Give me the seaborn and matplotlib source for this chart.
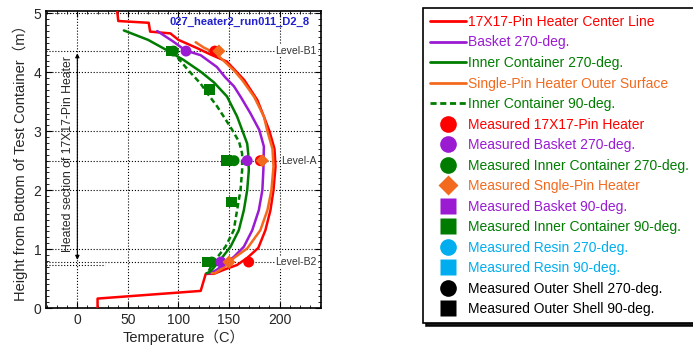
import seaborn as sns
import matplotlib.pyplot as plt
from matplotlib.lines import Line2D
from matplotlib.ticker import MultipleLocator

# simulated profiles: temperature (C) vs height (m)
center_x = [20, 20, 122, 127, 135, 145, 158, 168, 179, 186, 191, 194, 196, 195, 190, 184.5, 178, 165, 148, 132, 118.5, 100, 92, 72, 70.6, 40.5, 39]
center_y = [0, 0.16, 0.29, 0.58, 0.58, 0.65, 0.73, 0.85, 1.02, 1.32, 1.66, 2.0, 2.4, 2.7, 3.0, 3.25, 3.53, 3.87, 4.18, 4.30, 4.41, 4.55, 4.66, 4.69, 4.84, 4.87, 5.1]

basket_x = [128, 132, 138, 146.5, 155, 164.7, 173, 179.5, 183, 184, 184.5, 180, 171, 162, 155, 146, 138, 122, 107, 95, 79]
basket_y = [0.59, 0.59, 0.65, 0.76, 0.87, 1.04, 1.32, 1.66, 2.0, 2.34, 2.74, 3.02, 3.31, 3.57, 3.76, 3.92, 4.09, 4.29, 4.37, 4.52, 4.70]

inner270_x = [128, 131.7, 141.6, 151.5, 159.7, 164.7, 168, 169.6, 169, 168, 163, 158, 148, 135, 122, 105, 89, 70, 46]
inner270_y = [0.59, 0.62, 0.82, 1.04, 1.32, 1.66, 2.0, 2.34, 2.62, 2.79, 3.02, 3.25, 3.59, 3.83, 4.01, 4.21, 4.37, 4.55, 4.71]

single_x = [133, 136, 145, 155, 168, 181, 188, 192, 194, 193, 188, 184.5, 175, 163, 155, 137, 125, 117]
single_y = [0.59, 0.59, 0.69, 0.85, 1.01, 1.32, 1.66, 2.0, 2.4, 2.7, 3.0, 3.25, 3.58, 3.87, 4.03, 4.32, 4.42, 4.51]

inner90_x = [130, 133, 138, 146.5, 154.7, 158, 161.4, 163, 163, 160, 151.5, 138.3, 130, 121.8, 110, 98.6, 90]
inner90_y = [0.63, 0.73, 0.85, 1.04, 1.32, 1.66, 2.0, 2.34, 2.62, 2.82, 3.07, 3.42, 3.61, 3.81, 4.03, 4.26, 4.43]

# measurements at the three levels
levels = [4.36, 2.50, 0.78]
level_names = ["Level-B1", "Level-A", "Level-B2"]
meas_heater = [136, 181, 169.5]
meas_single = [140, 183, 150]
meas_basket = [107.5, 168, 142]
meas_inner270 = [95, 155, 133]
inner90_sq_x = [92.7, 131, 147.5, 152.5, 128.4]
inner90_sq_y = [4.36, 3.71, 2.50, 1.80, 0.78]

RED = "#FF0000"
PURPLE = "#9B1BD3"
GREEN = "#007D00"
ORANGE = "#F36A1E"
CYAN = "#00AEEF"

sns.set_style("ticks")
plt.rcParams['font.family'] = ['Liberation Sans', 'Noto Sans CJK JP']

fig = plt.figure(figsize=(6.93, 3.51), dpi=100)
ax = fig.add_axes([46 / 693, 43 / 351, 275 / 693, 297 / 351])

# level lines + heated section marker
for lv, name in zip(levels, level_names):
    ax.axhline(lv, color="k", ls=":", lw=0.8, zorder=1)
    ax.text(237, lv, name, ha="right", va="center", fontsize=7.5, color="#333333",
            bbox=dict(facecolor="white", edgecolor="none", pad=0.5), zorder=2)
ax.plot([-31, 27], [0.73, 0.73], color="k", ls=":", lw=0.8)
ax.annotate("", xy=(0, 0.77), xytext=(0, 4.37),
            arrowprops=dict(arrowstyle="<|-|>", color="k", lw=0.8, mutation_scale=6))
ax.text(-9, 2.62, "Heated section of 17X17-Pin Heater", rotation=90,
        ha="center", va="center", fontsize=8.8)

lines = [
    (center_x, center_y, RED, "-"),
    (basket_x, basket_y, PURPLE, "-"),
    (inner270_x, inner270_y, GREEN, "-"),
    (single_x, single_y, ORANGE, "-"),
    (inner90_x, inner90_y, GREEN, (0, (2.2, 1.3))),
]
for xs, ys, col, ls in lines:
    sns.lineplot(x=xs, y=ys, sort=False, estimator=None, color=col, lw=1.8,
                 linestyle=ls, ax=ax, zorder=3)

sns.scatterplot(x=inner90_sq_x, y=inner90_sq_y, marker="s", s=60, color=GREEN, edgecolor="none", ax=ax, zorder=4)
sns.scatterplot(x=meas_inner270, y=levels, marker="o", s=62, color=GREEN, edgecolor="none", ax=ax, zorder=4)
sns.scatterplot(x=meas_basket, y=levels, marker="o", s=62, color=PURPLE, edgecolor="none", ax=ax, zorder=4)
sns.scatterplot(x=meas_heater, y=levels, marker="o", s=62, color=RED, edgecolor="none", ax=ax, zorder=4)
sns.scatterplot(x=meas_single, y=levels, marker="D", s=45, color=ORANGE, edgecolor="none", ax=ax, zorder=5)

ax.text(230, 4.86, "027_heater2_run011_D2_8", ha="right", va="center",
        fontsize=8, fontweight="bold", color="#2020D0")

ax.set_xlim(-31, 241)
ax.set_ylim(0, 5.04)
ax.set_xticks([0, 50, 100, 150, 200])
ax.set_yticks([0, 1, 2, 3, 4, 5])
ax.xaxis.set_minor_locator(MultipleLocator(10))
ax.yaxis.set_minor_locator(MultipleLocator(0.1))
ax.grid(True, which="major", color="k", ls=":", lw=0.8)
ax.tick_params(which="both", direction="in", top=True, right=True, labelsize=10, color="k")
ax.tick_params(which="major", length=4, width=0.8)
ax.tick_params(which="minor", length=2.5, width=0.6)
for sp in ax.spines.values():
    sp.set_linewidth(1.2)
    sp.set_color("k")
ax.set_xlabel("Temperature（C）", fontsize=10.5, labelpad=2)
ax.set_ylabel("Height from Bottom of Test Container（m）", fontsize=10.5, labelpad=4)

handles = [
    Line2D([], [], color=RED, lw=2),
    Line2D([], [], color=PURPLE, lw=2),
    Line2D([], [], color=GREEN, lw=2),
    Line2D([], [], color=ORANGE, lw=2),
    Line2D([], [], color=GREEN, lw=2, ls=(0, (2.2, 1.3))),
    Line2D([], [], ls="", marker="o", color=RED, ms=12, mec="none"),
    Line2D([], [], ls="", marker="o", color=PURPLE, ms=12, mec="none"),
    Line2D([], [], ls="", marker="o", color=GREEN, ms=12, mec="none"),
    Line2D([], [], ls="", marker="D", color=ORANGE, ms=10, mec="none"),
    Line2D([], [], ls="", marker="s", color=PURPLE, ms=12, mec="none"),
    Line2D([], [], ls="", marker="s", color=GREEN, ms=12, mec="none"),
    Line2D([], [], ls="", marker="o", color=CYAN, ms=12, mec="none"),
    Line2D([], [], ls="", marker="s", color=CYAN, ms=12, mec="none"),
    Line2D([], [], ls="", marker="o", color="k", ms=12, mec="none"),
    Line2D([], [], ls="", marker="s", color="k", ms=12, mec="none"),
]
labels = [
    "17X17-Pin Heater Center Line", "Basket 270-deg.", "Inner Container 270-deg.",
    "Single-Pin Heater Outer Surface", "Inner Container 90-deg.",
    "Measured 17X17-Pin Heater", "Measured Basket 270-deg.",
    "Measured Inner Container 270-deg.", "Measured Sngle-Pin Heater",
    "Measured Basket 90-deg.", "Measured Inner Container 90-deg.",
    "Measured Resin 270-deg.", "Measured Resin 90-deg.",
    "Measured Outer Shell 270-deg.", "Measured Outer Shell 90-deg.",
]
colors = [RED, PURPLE, GREEN, ORANGE, GREEN, RED, PURPLE, GREEN, ORANGE,
          PURPLE, GREEN, CYAN, CYAN, "k", "k"]
leg = fig.legend(handles, labels, loc="upper left", bbox_to_anchor=(423 / 693, 1 - 8 / 351),
                 borderaxespad=0, fontsize=10, handlelength=2.6, handletextpad=0.15,
                 labelspacing=0.47, borderpad=0.5, frameon=True, fancybox=False,
                 shadow={"color": "k", "alpha": 0.9}, edgecolor="k", labelcolor=colors)
leg.get_frame().set_linewidth(1.2)
leg.get_frame().set_alpha(1)

fig.savefig("out.png", dpi=100)
